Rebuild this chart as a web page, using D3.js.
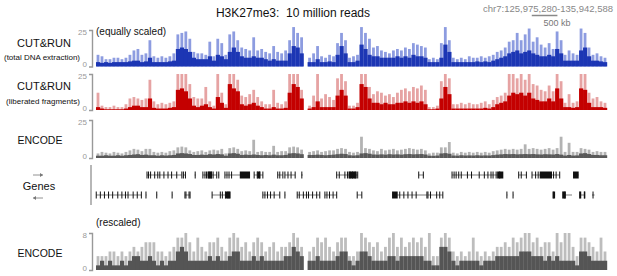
<!DOCTYPE html>
<html><head><meta charset="utf-8">
<script src="https://cdn.jsdelivr.net/npm/d3@7"></script>
<style>
html,body{margin:0;padding:0;background:#fff;}
svg{display:block;font-family:"Liberation Sans",Arial,sans-serif;}
</style></head>
<body><svg id="c" width="617" height="276"></svg>
<script>
// Region
const regionStart = 125.975280, regionEnd = 135.942588; // Mb, chr7
const nBins = 128;

const blueMean = [3,2.5,3,2.5,3,3,3,3,3.5,4,4,3,3.5,6,3,3,3,3,3.5,4,12,13,12,10,6,5,5,5,7,4,8,7,5,10,13,10,7,6,6,7,6,6,5,4,5,4,4,4,9,14,13,9,null,3,3,5,3,3,3.5,3,8,14,9,3,3,4,15,12,8,7,7,6,6,6,6,7,6,7,6,8,7,7,6,3,3,3,6,15,10,3,3,3,3,3,3,3.5,3,3.5,3,4,5,6,7,9,10,11,9,10,11,9,8,7,7,8,7,12,9,4,4,4,4,11,13,7,4,4,3.5,3];
const blueMax = [8,7,5,5,6,6,5,6,8,11,12,8,9,18,7,6,7,6,7,9,22,23,24,19,10,9,9,8,17,7,19,16,8,22,24,18,13,12,11,20,11,12,10,9,14,10,9,11,18,27,23,20,null,6,9,14,7,6,8,7,16,23,18,6,7,8,27,23,19,13,14,11,10,9,11,12,11,13,12,16,15,14,13,5,6,5,16,27,18,6,5,6,5,7,6,6,7,6,7,8,10,11,13,17,18,23,18,22,26,17,20,15,13,16,12,24,18,8,11,9,8,26,23,13,8,9,7,6];
const redMean = [2,1,0.5,0.5,0.5,0.5,0.5,1,2,3,3,2,2,8,1.5,1,1,1,1.5,2,14,15,13,8,3,2,3,4,2,1,9,5,1.5,18,15,13,4,3,4,5,3,2,1,1,2,1,1,1.5,12,18,16,8,null,1,2,6,2,2,2,2,10,14,10,1,1,2,18,16,8,5,5,4,5,4,4,5,5,6,5,6,5,6,4,0.5,0.5,1,8,16,11,1,1,1,1,1,1,1,1,1.5,1,2,4,5,6,10,12,11,12,10,12,8,7,6,6,8,6,15,8,2,2,1.5,2,15,14,5,2,2,2,1.5];
const redMax = [12,3,2,2,3,2,2,4,8,9,8,7,8,21,6,4,5,4,5,6,25,25,25,18,9,8,8,16,6,3,25,12,4,25,25,21,10,9,11,14,9,6,4,4,14,5,4,6,25,25,25,14,null,3,10,25,8,11,9,7,22,25,20,3,3,5,25,25,16,11,13,12,10,11,9,12,14,15,13,16,15,17,14,2,2,3,20,25,22,4,4,5,4,5,4,4,5,6,4,7,9,10,12,25,25,22,25,21,25,18,17,14,13,17,13,25,20,5,11,5,6,25,25,12,8,9,6,5];
const encMean = [1.5,1.5,1.8,1.5,1.5,1.8,1.5,1.8,2,2.3,2.5,2,2.2,1.8,1.8,1.5,1.8,1.6,1.8,2,3,3.2,3,2.6,2,2,2.2,2,2.5,2.3,2.6,2.4,1.5,3,3.2,2.8,2,2.2,2,2.3,2,1.8,2,1.8,2.2,1.8,1.8,2,3,3.2,3,2.5,null,2,2,2.2,2,1.8,2,2.2,2.5,2.8,2.6,1.8,1.6,1.8,3,3.2,2.8,2.3,2.2,2.4,2.2,2.5,2.3,2.4,2.2,2.5,2.6,2.4,2.5,2.6,2.3,1.5,1.4,1.6,3,3.2,2.8,1.6,1.5,1.8,1.6,1.7,1.6,1.8,1.6,1.7,1.6,1.9,2.2,2.4,2.6,2.5,2.6,2.4,2.5,2.6,2.5,2.6,2.4,2.3,2.5,2.4,2.3,2.6,2.2,1.6,2,1.6,1.7,3,3.2,2.6,2,2,1.8,1.8];
const encMax = [3,4,3.5,3,4,3.5,3,4,5,6,5.5,4.5,6,6,4,3.5,4,3.5,4.5,5,7,7.5,7,5,4,4.5,5,4,5,5.5,5,6,3,6.5,7,6,4.5,5,4.5,12,4,4.5,4,4,8,4,4.5,4.5,7,7.5,7,5.5,null,4,4.5,5,4,4.5,5,5,6,6.5,6,4,3.5,4,14,6.5,6,5,4.5,6,5,5.5,6,5,5.5,6,6.5,6,5.5,6,5,3,3.5,3.5,7,7,10.5,3.5,3,4,3.5,4,3.5,4,3.5,4,3.5,4.5,5,5.5,6,5.5,6,5.5,6,9,6,6.5,6,5.5,6,6.5,5.5,6.5,14,4,10,4,4,6.5,6,5.5,4,4.5,4,4];
const encRsMean = [1,2,1,2,1,1,2,1,2,3,3,2,2,3,2,1,2,1,2,2,4,5,4,2,2,2,2,2,3,2,3,2,2,3,4,4,2,2,2,3,2,3,2,2,2,2,2,3,3,5,4,3,null,2,2,3,2,2,2,2,3,4,4,2,1,2,4,4,3,2,2,2,2,3,3,2,3,3,3,3,3,3,2,2,1,1,5,5,4,2,1,2,2,2,2,2,1,2,2,2,3,3,3,3,3,3,4,4,4,3,3,3,2,3,2,3,2,2,2,2,1,4,4,3,2,2,2,2];
const encRsMax = [3,3,3,4,4,3,4,3,4,5,4,5,6,6,6,4,4,3,4,5,7,7,8,6,4,7,5,4,6,6,7,5,4,7,8,7,5,6,4,6,7,6,4,5,6,4,5,5,6,8,7,5,null,4,5,7,6,7,5,4,6,7,7,3,3,4,8,7,6,5,6,4,5,7,8,5,7,5,6,7,6,7,5,8,3,3,7,8,7,4,3,4,3,4,7,4,3,4,3,4,5,5,6,5,7,6,7,8,8,6,7,5,6,6,4,8,6,8,8,5,3,7,7,6,5,4,7,4];

// Genes (Mb): forward row and reverse row
const genesFwd = [[126.97,127.65],[127.68,127.72],[127.90,127.92],[128.06,128.33],[128.36,128.38],[128.49,128.98],[129.06,129.23],[129.52,129.62],[129.66,129.86],[129.98,130.01],[130.67,131.08],[132.27,132.37],[132.92,133.91],[134.22,134.38],[134.48,135.02],[135.28,135.39]];
const exonsFwd = [126.97,127.0,127.04,127.12,127.18,127.22,127.30,127.38,127.45,127.55,127.65,127.68,127.72,127.91,128.06,128.10,128.13,128.18,128.22,128.26,128.33,128.37,128.49,128.53,128.57,128.62,129.06,129.12,129.17,129.23,129.52,129.56,129.62,129.66,129.72,129.78,129.86,129.99,130.67,130.72,130.83,130.88,130.93,130.98,131.03,131.08,132.27,132.36,132.92,132.96,133.00,133.05,133.10,133.22,133.30,133.45,133.55,133.62,133.68,133.72,133.78,133.85,134.22,134.27,134.37,134.48,134.55,134.60,134.90,134.95,135.02];
const blocksFwd = [[128.15,128.24],[128.78,128.98],[129.12,129.18],[130.90,131.06],[133.80,133.92],[134.63,134.87],[135.28,135.39]];
const genesRev = [[125.98,126.86],[126.95,126.96],[127.16,127.17],[127.46,127.47],[127.71,127.81],[128.24,128.59],[129.23,129.56],[129.66,129.67],[129.90,130.34],[130.44,130.67],[131.07,131.16],[131.75,132.43],[132.45,132.74],[133.99,134.00],[134.11,134.12],[134.89,134.93],[135.08,135.26],[135.41,135.51],[135.65,135.70]];
const exonsRev = [125.98,126.06,126.14,126.22,126.30,126.40,126.48,126.55,126.60,126.70,126.78,126.86,126.95,127.16,127.46,127.71,127.73,127.79,127.81,128.24,128.40,128.44,128.50,128.55,128.59,129.23,129.27,129.32,129.38,129.45,129.56,129.66,129.90,129.94,130.02,130.08,130.12,130.20,130.28,130.34,130.44,130.48,130.53,130.60,130.67,131.07,131.16,131.90,131.98,132.06,132.14,132.22,132.43,132.45,132.50,132.62,132.68,132.74,133.99,134.11,134.89,135.08,135.12,135.41,135.51,135.67];
const blocksRev = [[128.50,128.59],[131.75,131.86],[134.89,134.93],[135.08,135.14],[135.41,135.44],[135.49,135.51]];

const svg = d3.select("#c");
const x = d3.scaleLinear().domain([regionStart, regionEnd]).range([96, 607]);
const binSize = (regionEnd - regionStart) / nBins;

const tracks = [
  {mean: blueMean, max: blueMax, max0: 25, y0: 66.5, y1: 30, dark: "#1c36b4", light: "#8d9ce0"},
  {mean: redMean, max: redMax, max0: 25, y0: 110, y1: 74, dark: "#c40000", light: "#e6a3a3"},
  {mean: encMean, max: encMax, max0: 25, y0: 158, y1: 120, dark: "#595959", light: "#b3b3b3"},
  {mean: encRsMean, max: encRsMax, max0: 8, y0: 270, y1: 233, dark: "#555555", light: "#bdbdbd"}
];

tracks.forEach(t => {
  const y = d3.scaleLinear().domain([0, t.max0]).range([t.y0, t.y1]);
  const g = svg.append("g");
  const idx = d3.range(nBins).filter(i => t.mean[i] !== null);
  const bx = i => x(regionStart + i*binSize);
  g.selectAll("rect.l").data(idx).join("rect")
    .attr("x", i => bx(i) + 0.6)
    .attr("width", i => bx(i+1) - bx(i) - 1.2)
    .attr("y", i => y(Math.min(t.max[i], t.max0*1.1)))
    .attr("height", i => y(0) - y(Math.min(t.max[i], t.max0*1.1)))
    .attr("fill", t.light);
  g.selectAll("rect.d").data(idx).join("rect")
    .attr("x", i => bx(i))
    .attr("width", i => bx(i+1) - bx(i) + 0.2)
    .attr("y", i => y(t.mean[i]))
    .attr("height", i => y(0) - y(t.mean[i]))
    .attr("fill", t.dark);
  // bracket axis
  const ax = svg.append("g").attr("transform", "translate(92,0)")
    .call(d3.axisLeft(y).tickValues([0, t.max0]).tickSizeInner(0).tickSizeOuter(3).tickPadding(5));
  ax.select(".domain").attr("stroke", "#999").attr("stroke-width", 1.4);
  ax.selectAll("text").attr("fill", "#999").attr("font-size", 8)
    .attr("dy", d => d === 0 ? "0.05em" : "0.6em")
    .attr("font-family", "Liberation Sans, Arial, sans-serif");
});

// Genes
const gG = svg.append("g");
gG.append("line").attr("x1", 91).attr("x2", 91).attr("y1", 165).attr("y2", 205).attr("stroke", "#999").attr("stroke-width", 1.4);
const rows = [{genes: genesFwd, exons: exonsFwd, blocks: blocksFwd, y: 175},
              {genes: genesRev, exons: exonsRev, blocks: blocksRev, y: 195}];
rows.forEach(r => {
  gG.selectAll(null).data(r.genes).join("line")
    .attr("x1", d => x(d[0])).attr("x2", d => x(d[1]))
    .attr("y1", r.y).attr("y2", r.y).attr("stroke", "#444").attr("stroke-width", 0.7);
  gG.selectAll(null).data(r.exons).join("rect")
    .attr("x", d => x(d) - 0.5).attr("width", 1.0)
    .attr("y", r.y - 3.5).attr("height", 7).attr("fill", "#111");
  gG.selectAll(null).data(r.blocks).join("rect")
    .attr("x", d => x(d[0])).attr("width", d => Math.max(1.2, x(d[1]) - x(d[0])))
    .attr("y", r.y - 3.5).attr("height", 7).attr("fill", "#111");
});

// Labels
const T = (txt, xx, yy, size, opts={}) => svg.append("text").text(txt)
  .attr("x", xx).attr("y", yy).attr("font-size", size)
  .attr("text-anchor", opts.anchor || "middle").attr("fill", opts.fill || "#111");
T("H3K27me3:  10 million reads", 293, 17, 12).attr("xml:space", "preserve").style("white-space", "pre");
T("chr7:125,975,280-135,942,588", 613, 12, 9.5, {anchor: "end", fill: "#888"});
svg.append("line").attr("x1", x(regionStart + 8.5)).attr("x2", x(regionStart + 9.0)).attr("y1", 15.5).attr("y2", 15.5).attr("stroke", "#888").attr("stroke-width", 1.5);
T("500 kb", 557, 26, 9, {fill: "#777"});
T("(equally scaled)", 96, 35, 10, {anchor: "start"});
T("(rescaled)", 96, 226, 10, {anchor: "start"});
T("CUT&RUN", 44, 47, 11);
T("(total DNA extraction)", 42, 60, 8);
T("CUT&RUN", 44, 90, 11);
T("(liberated fragments)", 43, 104, 8);
T("ENCODE", 40, 144, 10.5);
T("Genes", 39, 190, 11);
T("ENCODE", 40, 257, 10.5);
// strand arrows
const arrow = (x1, x2, yy) => {
  svg.append("line").attr("x1", x1).attr("x2", x2).attr("y1", yy).attr("y2", yy).attr("stroke", "#777").attr("stroke-width", 0.8);
  const dir = Math.sign(x2 - x1);
  svg.append("path").attr("d", `M${x2},${yy} L${x2 - dir*3},${yy - 2} L${x2 - dir*3},${yy + 2} Z`).attr("fill", "#777");
};
arrow(33, 43, 175);
arrow(43, 33, 198);
</script></body></html>
